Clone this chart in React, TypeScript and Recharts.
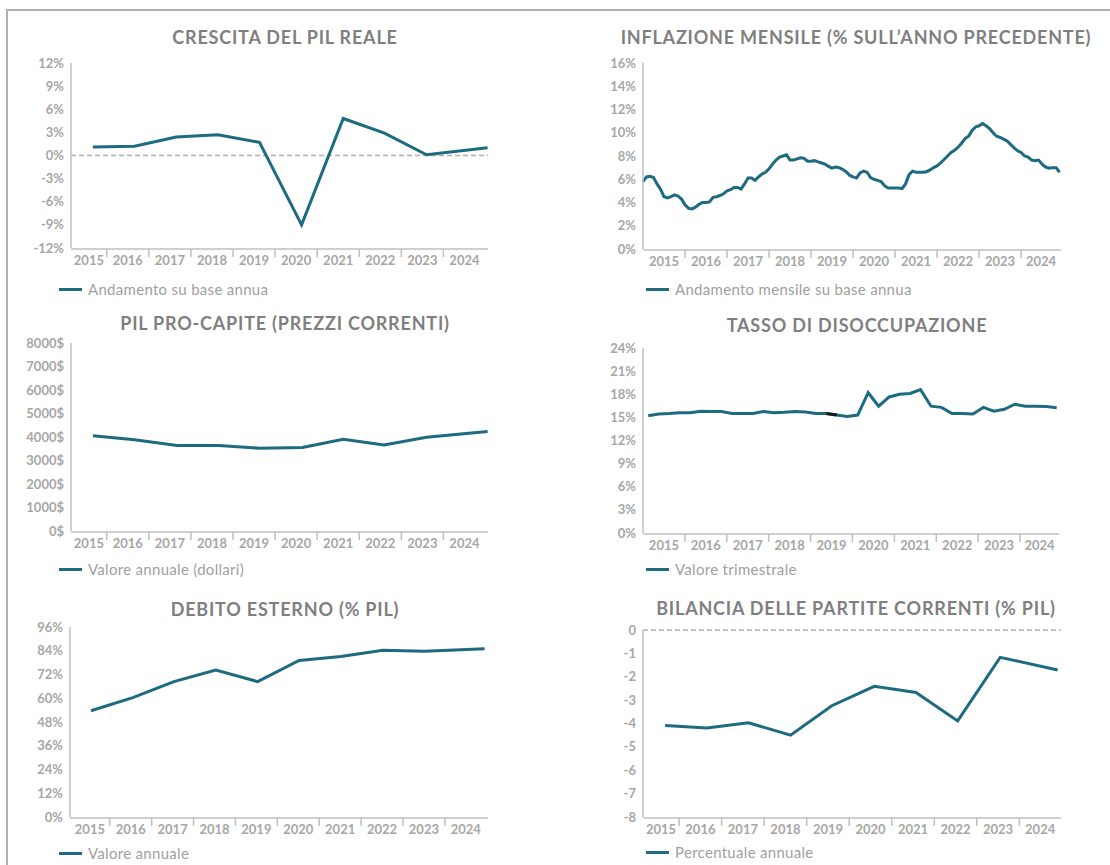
import React from 'react';
import { LineChart, Line, XAxis, YAxis, ReferenceLine } from 'recharts';

// ---------- DATA ----------
const anniEtichette = ['2015', '2016', '2017', '2018', '2019', '2020', '2021', '2022', '2023', '2024'];
const confiniAnno = [2016, 2017, 2018, 2019, 2020, 2021, 2022, 2023, 2024];

// 1. Crescita del PIL reale (annual)
const pilRealeDate = [2015.67, 2016.66, 2017.65, 2018.64, 2019.63, 2020.63, 2021.62, 2022.6, 2023.6, 2025.05];
const pilRealeCrescita = [1.1, 1.2, 2.4, 2.7, 1.7, -9.0, 4.8, 2.9, 0.1, 1.0];

// 2. Inflazione mensile (Jan 2015 - Dec 2024)
const inflazioneValori = [
  5.8, 6.2, 6.25, 6.15, 5.6, 5.15, 4.5, 4.4, 4.5, 4.65, 4.55, 4.3,
  3.8, 3.5, 3.45, 3.6, 3.85, 4.0, 4.0, 4.05, 4.45, 4.5, 4.6, 4.75,
  5.0, 5.1, 5.3, 5.3, 5.15, 5.6, 6.1, 6.1, 5.9, 6.2, 6.45, 6.6,
  6.9, 7.3, 7.65, 7.9, 8.0, 8.1, 7.65, 7.65, 7.75, 7.85, 7.8, 7.55,
  7.55, 7.6, 7.5, 7.4, 7.3, 7.1, 6.95, 7.05, 7.0, 6.85, 6.65, 6.35,
  6.2, 6.1, 6.55, 6.7, 6.6, 6.15, 6.0, 5.9, 5.8, 5.45, 5.25, 5.25,
  5.25, 5.25, 5.2, 5.6, 6.4, 6.7, 6.6, 6.6, 6.6, 6.65, 6.8, 7.0,
  7.15, 7.4, 7.7, 8.0, 8.3, 8.5, 8.75, 9.1, 9.5, 9.7, 10.2, 10.5,
  10.6, 10.8, 10.6, 10.35, 10.0, 9.7, 9.6, 9.45, 9.3, 9.0, 8.7, 8.45,
  8.3, 8.0, 7.9, 7.65, 7.6, 7.65, 7.3, 7.05, 6.95, 7.0, 7.0, 6.6,
];
const inflazioneMesi = inflazioneValori.map((_, i) => 2015 + i / 12);

// 3. PIL pro-capite (annual, $)
const pilProCapiteDate = [2015.67, 2016.66, 2017.67, 2018.66, 2019.64, 2020.65, 2021.62, 2022.59, 2023.6, 2025.05];
const pilProCapite = [4050, 3880, 3640, 3640, 3520, 3550, 3900, 3660, 3990, 4230];

// 4. Tasso di disoccupazione (quarterly)
const disoccupazione = [
  15.2, 15.45, 15.5, 15.6, 15.6, 15.8, 15.75, 15.75,
  15.5, 15.5, 15.5, 15.75, 15.6, 15.65, 15.75, 15.7,
  15.5, 15.5, 15.3, 15.1, 15.3, 18.2, 16.45, 17.65,
  18.0, 18.1, 18.6, 16.45, 16.3, 15.5, 15.5, 15.45,
  16.3, 15.8, 16.05, 16.7, 16.45, 16.45, 16.4, 16.25,
];
const disoccupazioneTrimestri = disoccupazione.map((_, i) => 2015 + (i + 0.5) / 4);
const disoccupazioneEvidenziati = [17, 18];

// 5. Debito esterno (% PIL)
const debitoDate = [2015.55, 2016.55, 2017.53, 2018.53, 2019.53, 2020.52, 2021.52, 2022.52, 2023.52, 2024.95];
const debitoEsterno = [53.7, 60.3, 68.4, 74.2, 68.4, 79.1, 81.1, 84.2, 83.7, 85.0];

// 6. Bilancia delle partite correnti (% PIL)
const bilanciaDate = [2015.67, 2016.65, 2017.63, 2018.62, 2019.59, 2020.59, 2021.57, 2022.55, 2023.55, 2024.9];
const bilancia = [-4.09, -4.19, -3.97, -4.5, -3.24, -2.41, -2.67, -3.89, -1.17, -1.71];

// y ticks
const tickPil = [-12, -9, -6, -3, 0, 3, 6, 9, 12];
const tickInfl = [0, 2, 4, 6, 8, 10, 12, 14, 16];
const tickProCapite = [0, 1000, 2000, 3000, 4000, 5000, 6000, 7000, 8000];
const tickDisocc = [0, 3, 6, 9, 12, 15, 18, 21, 24];
const tickDebito = [0, 12, 24, 36, 48, 60, 72, 84, 96];
const tickBilancia = [-8, -7, -6, -5, -4, -3, -2, -1, 0];

// ---------- STYLE ----------
const TEAL = '#1d6b80';
const AXIS = '#bfbfbf';
const TICK_COLOR = '#a6a6a6';
const FONT = 'Lato, "Open Sans", sans-serif';

type Area = { x0: number; y0: number; x1: number; y1: number };

const etichettePos = (d: [number, number]) =>
  anniEtichette.map((a) => {
    const y = Number(a);
    const s = Math.max(y, d[0]);
    const e = Math.min(y + 1, d[1]);
    return (s + e) / 2;
  });

const tickStyle = { fill: TICK_COLOR, fontSize: 13, fontWeight: 700, fontFamily: FONT };

const TickVuoto = () => <g />;

function Grafico(props: {
  area: Area;
  dati: any[];
  dominioX: [number, number];
  dominioY: [number, number];
  tickY: number[];
  formatoY: (v: number) => string;
  lineaZero?: boolean;
  evidenza?: boolean;
}) {
  const { area, dati, dominioX, dominioY, tickY, formatoY, lineaZero, evidenza } = props;
  const yw = 60;
  const mt = 12;
  const mr = 16;
  const mb = 30;
  const width = area.x1 - area.x0 + yw + mr;
  const height = area.y1 - area.y0 + mt + mb + 2;
  return (
    <div style={{ position: 'absolute', left: area.x0 - yw, top: area.y0 - mt }}>
      <LineChart width={width} height={height} data={dati} margin={{ top: mt, right: mr, bottom: mb, left: 0 }}>
        <XAxis
          xAxisId="main"
          dataKey="x"
          type="number"
          domain={dominioX}
          ticks={confiniAnno}
          interval={0}
          tick={TickVuoto}
          tickSize={8}
          height={1}
          axisLine={{ stroke: AXIS, strokeWidth: 1.5 }}
          tickLine={{ stroke: AXIS, strokeWidth: 1.5 }}
        />
        <XAxis
          xAxisId="etichette"
          dataKey="x"
          type="number"
          domain={dominioX}
          allowDataOverflow
          ticks={etichettePos(dominioX)}
          interval={0}
          tickFormatter={(v: number) => String(Math.floor(v))}
          axisLine={false}
          tickLine={false}
          tickSize={0}
          tickMargin={8}
          height={1}
          tick={tickStyle}
        />
        <YAxis
          type="number"
          domain={dominioY}
          ticks={tickY}
          interval={0}
          tickFormatter={formatoY}
          width={yw}
          axisLine={{ stroke: AXIS, strokeWidth: 1.5 }}
          tickLine={false}
          tickSize={0}
          tickMargin={7}
          tick={tickStyle}
        />
        {lineaZero && (
          <ReferenceLine xAxisId="main" y={0} stroke="#b0b0b0" strokeWidth={1.3} strokeDasharray="5 3" />
        )}
        <Line
          xAxisId="main"
          type="linear"
          dataKey="v"
          stroke={TEAL}
          strokeWidth={3}
          dot={false}
          activeDot={false}
          isAnimationActive={false}
        />
        {evidenza && (
          <Line
            xAxisId="main"
            type="linear"
            dataKey="h"
            stroke="#1a1a1a"
            strokeWidth={3}
            dot={false}
            activeDot={false}
            connectNulls={false}
            isAnimationActive={false}
          />
        )}
      </LineChart>
    </div>
  );
}

function Titolo({ cx, cy, testo }: { cx: number; cy: number; testo: string }) {
  return (
    <div
      style={{
        position: 'absolute',
        left: cx - 300,
        width: 600,
        top: cy - 11,
        lineHeight: '22px',
        textAlign: 'center',
        fontSize: 18,
        fontWeight: 700,
        color: '#7f7f7f',
        letterSpacing: 0.8,
        whiteSpace: 'nowrap',
        fontFamily: FONT,
      }}
    >
      {testo}
    </div>
  );
}

function Legenda({ x, y, testo }: { x: number; y: number; testo: string }) {
  return (
    <div style={{ position: 'absolute', left: x, top: y - 10, height: 20, display: 'flex', alignItems: 'center' }}>
      <div style={{ width: 23, height: 3, background: TEAL, marginRight: 6 }} />
      <span style={{ fontSize: 15, color: '#9f9f9f', letterSpacing: 0.3, fontFamily: FONT, whiteSpace: 'nowrap' }}>
        {testo}
      </span>
    </div>
  );
}

const pct = (v: number) => `${v}%`;

export default function App() {
  const d1 = pilRealeDate.map((x, i) => ({ x, v: pilRealeCrescita[i] }));
  const d2 = inflazioneMesi.map((x, i) => ({ x, v: inflazioneValori[i] }));
  const d3 = pilProCapiteDate.map((x, i) => ({ x, v: pilProCapite[i] }));
  const d4 = disoccupazioneTrimestri.map((x, i) => ({
    x,
    v: disoccupazione[i],
    h: disoccupazioneEvidenziati.includes(i) ? disoccupazione[i] : null,
  }));
  const d5 = debitoDate.map((x, i) => ({ x, v: debitoEsterno[i] }));
  const d6 = bilanciaDate.map((x, i) => ({ x, v: bilancia[i] }));

  return (
    <div
      style={{
        position: 'absolute',
        left: 0,
        top: 0,
        width: 1110,
        height: 865,
        background: '#ffffff',
        overflow: 'hidden',
        fontFamily: FONT,
      }}
    >
      <div
        style={{
          position: 'absolute',
          left: 6,
          top: 9,
          width: 1110,
          height: 870,
          borderTop: '2px solid #b0b0b0',
          borderLeft: '2px solid #b0b0b0',
        }}
      />

      <Titolo cx={285} cy={37} testo="CRESCITA DEL PIL REALE" />
      <Grafico
        area={{ x0: 71, y0: 63, x1: 488, y1: 248 }}
        dati={d1}
        dominioX={[2015.15, 2025.06]}
        dominioY={[-12, 12]}
        tickY={tickPil}
        formatoY={pct}
        lineaZero
      />
      <Legenda x={59} y={289} testo="Andamento su base annua" />

      <Titolo cx={856} cy={37} testo="INFLAZIONE MENSILE (% SULL’ANNO PRECEDENTE)" />
      <Grafico
        area={{ x0: 643, y0: 63, x1: 1061, y1: 249 }}
        dati={d2}
        dominioX={[2015, 2024.95]}
        dominioY={[0, 16]}
        tickY={tickInfl}
        formatoY={pct}
      />
      <Legenda x={646} y={289} testo="Andamento mensile su base annua" />

      <Titolo cx={285} cy={323} testo="PIL PRO-CAPITE (PREZZI CORRENTI)" />
      <Grafico
        area={{ x0: 71, y0: 343, x1: 488, y1: 531 }}
        dati={d3}
        dominioX={[2015.15, 2025.06]}
        dominioY={[0, 8000]}
        tickY={tickProCapite}
        formatoY={(v: number) => `${v}$`}
      />
      <Legenda x={59} y={569} testo="Valore annuale (dollari)" />

      <Titolo cx={857} cy={325} testo="TASSO DI DISOCCUPAZIONE" />
      <Grafico
        area={{ x0: 643, y0: 348, x1: 1059, y1: 533 }}
        dati={d4}
        dominioX={[2015, 2024.93]}
        dominioY={[0, 24]}
        tickY={tickDisocc}
        formatoY={pct}
        evidenza
      />
      <Legenda x={646} y={569} testo="Valore trimestrale" />

      <Titolo cx={285} cy={609} testo="DEBITO ESTERNO (% PIL)" />
      <Grafico
        area={{ x0: 70, y0: 627, x1: 488, y1: 817 }}
        dati={d5}
        dominioX={[2015.05, 2025.03]}
        dominioY={[0, 96]}
        tickY={tickDebito}
        formatoY={pct}
      />
      <Legenda x={59} y={853} testo="Valore annuale" />

      <Titolo cx={856} cy={608} testo="BILANCIA DELLE PARTITE CORRENTI (% PIL)" />
      <Grafico
        area={{ x0: 643, y0: 630, x1: 1061, y1: 817 }}
        dati={d6}
        dominioX={[2015.15, 2024.98]}
        dominioY={[-8, 0]}
        tickY={tickBilancia}
        formatoY={(v: number) => `${v}`}
        lineaZero
      />
      <Legenda x={646} y={852} testo="Percentuale annuale" />
    </div>
  );
}
